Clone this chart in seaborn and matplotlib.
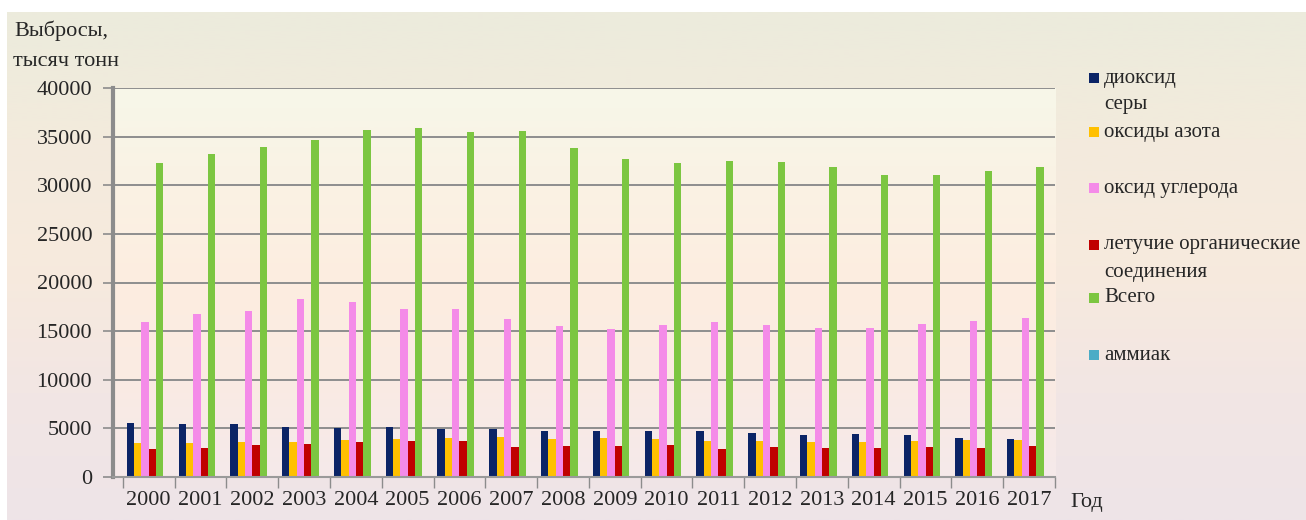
import numpy as np
import pandas as pd
import matplotlib
matplotlib.use("Agg")
import matplotlib.pyplot as plt
import matplotlib.font_manager as fm
import seaborn as sns
from matplotlib.colors import LinearSegmentedColormap
from matplotlib.patches import Rectangle

# ---------------- data ----------------
years = [str(y) for y in range(2000, 2018)]
sulfur_dioxide = [5600, 5400, 5400, 5150, 5050, 5150, 4950, 4950, 4750, 4750,
                  4720, 4690, 4550, 4370, 4440, 4340, 4020, 3950]
nitrogen_oxides = [3500, 3500, 3650, 3600, 3800, 3900, 4000, 4100, 3900, 4000,
                   3900, 3740, 3700, 3640, 3640, 3740, 3810, 3810]
carbon_oxide = [15900, 16800, 17100, 18300, 18000, 17300, 17300, 16200, 15500, 15200,
                15600, 15950, 15600, 15350, 15350, 15700, 16000, 16400]
volatile_organic = [2900, 3000, 3250, 3350, 3600, 3700, 3700, 3100, 3180, 3150,
                    3290, 2870, 3110, 3000, 3000, 3040, 3000, 3150]
total = [32250, 33200, 33900, 34650, 35700, 35850, 35500, 35550, 33850, 32650,
         32250, 32500, 32350, 31900, 31050, 31100, 31500, 31900]
ammonia = [100] * 18

series_keys = ["so2", "nox", "co", "voc", "total", "nh3"]
legend_labels = ["диоксид\nсеры", "оксиды азота", "оксид углерода",
                 "летучие органические\nсоединения", "Всего", "аммиак"]
colors = ["#0B2466", "#FFC000", "#F48BE8", "#C00000", "#7CC641", "#4BACC6"]
yticks = list(range(0, 40001, 5000))

series_values = [sulfur_dioxide, nitrogen_oxides, carbon_oxide,
                 volatile_organic, total, ammonia]
rows = []
for key, vals in zip(series_keys, series_values):
    for yr, v in zip(years, vals):
        rows.append({"year": yr, "series": key, "value": v})
df = pd.DataFrame(rows)

# ---------------- style ----------------
sns.set_style("white")

def pick_font(cands):
    for c in cands:
        try:
            fm.findfont(fm.FontProperties(family=c), fallback_to_default=False)
            return c
        except Exception:
            continue
    return "DejaVu Serif"

serif = pick_font(["Liberation Serif", "Times New Roman", "Nimbus Roman",
                   "DejaVu Serif"])
plt.rcParams["font.family"] = [serif, "DejaVu Serif"]
FS = 16
LFS = 15

W, H = 1306, 520
fig = plt.figure(figsize=(W / 100, H / 100), dpi=100)
fig.patch.set_facecolor("white")

def fx(px):
    return px / W

def fy(py):
    return 1 - py / H

# figure background gradient
bg = fig.add_axes([fx(7), 0, 1 - fx(7), fy(12)], zorder=-3)
cmap_bg = LinearSegmentedColormap.from_list(
    "bg", ["#ECEBDC", "#F3EBDD", "#F7EADD", "#F2E6E4", "#EEE4E8"])
bg.imshow(np.linspace(0, 1, 256).reshape(-1, 1), aspect="auto", cmap=cmap_bg,
          extent=[0, 1, 0, 1], origin="upper")
bg.set_axis_off()

# plot area
left, right, top, bottom = 113, 1055, 88, 477
pos = [fx(left), fy(bottom), fx(right - left), (bottom - top) / H]
pbg = fig.add_axes(pos, zorder=-2)
cmap_pa = LinearSegmentedColormap.from_list(
    "pa", ["#F7F7E9", "#FAF2E4", "#FDEDE0", "#FAEBE3", "#F5E9EA"])
pbg.imshow(np.linspace(0, 1, 256).reshape(-1, 1), aspect="auto", cmap=cmap_pa,
           extent=[0, 1, 0, 1], origin="upper")
pbg.set_axis_off()

ax = fig.add_axes(pos)
ax.set_facecolor("none")
sns.barplot(data=df, x="year", y="value", hue="series", order=years,
            hue_order=series_keys, palette=colors, saturation=1, width=0.85,
            linewidth=0, legend=False, ax=ax)

ax.set_ylim(0, 40000)
ax.set_xlim(-0.69, len(years) - 0.5)
ax.set_yticks(yticks)
ax.set_yticklabels([str(t) for t in yticks], fontsize=FS)
ax.yaxis.grid(True, color="#8E8E8E", linewidth=1.4)
ax.set_axisbelow(True)
ax.set_xlabel("")
ax.set_ylabel("")

for s in ["top", "right"]:
    ax.spines[s].set_visible(False)
ax.spines["left"].set_color("#8C8C8C")
ax.spines["left"].set_linewidth(3)
ax.spines["bottom"].set_color("#9A9A9A")
ax.spines["bottom"].set_linewidth(1.5)

ax.tick_params(axis="y", length=7, width=1.2, color="#8C8C8C", pad=8,
               labelsize=FS, left=True)
ax.set_xticks(range(len(years)))
ax.set_xticklabels(years, fontsize=FS)
ax.tick_params(axis="x", which="major", length=0, pad=10, labelsize=FS)
ax.set_xticks(np.arange(-0.5, len(years), 1), minor=True)
ax.tick_params(axis="x", which="minor", length=8, width=1.0, color="#8C8C8C",
               bottom=True)

# axis titles
fig.text(fx(14), fy(31), "Выбросы,", fontsize=FS, ha="left", va="center")
fig.text(fx(13), fy(61), "тысяч тонн", fontsize=FS, ha="left", va="center")
fig.text(fx(1070), fy(502), "Год", fontsize=FS, ha="left", va="center")

# legend (manual layout to match uneven spacing)
entry_y = [78, 132, 188, 245, 298, 355]
for lab, col, yc in zip(legend_labels, colors, entry_y):
    fig.add_artist(Rectangle((fx(1089), fy(yc + 5)), fx(10), 10 / H,
                             transform=fig.transFigure, facecolor=col,
                             edgecolor="none"))
    for k, line in enumerate(lab.split("\n")):
        fig.text(fx(1104), fy(yc + 27 * k), line, fontsize=LFS,
                 ha="left", va="center")

fig.savefig("out.png", dpi=100)
